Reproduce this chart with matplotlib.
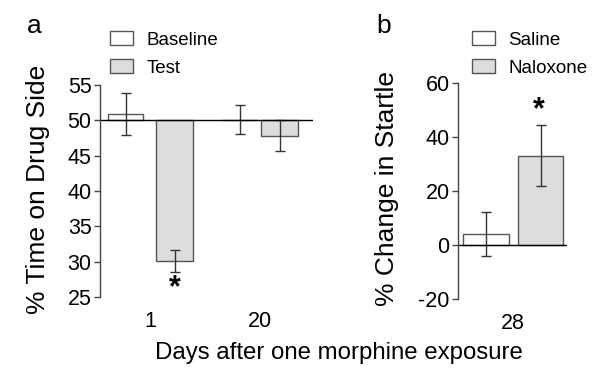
import numpy as np
import matplotlib
matplotlib.use("Agg")
import matplotlib.pyplot as plt

plt.rcParams['font.family'] = ['Liberation Sans', 'DejaVu Sans']
plt.rcParams['axes.unicode_minus'] = False

# panel a: % time on drug side
days = ['1', '20']
baseline_mean = [50.9, 50.1]
baseline_err = [3.0, 2.1]
test_mean = [30.1, 47.8]
test_err = [1.6, 2.2]

# panel b: % change in startle (day 28)
startle_day = ['28']
saline_mean = [4.0]
saline_err = [8.2]
naloxone_mean = [33.0]
naloxone_err = [11.3]

edge = '#555555'
fill = '#dddddd'
ecol = '#333333'

fig = plt.figure(figsize=(6, 3.84), dpi=100)

# ---- panel a
ax1 = fig.add_axes([100 / 600, 87 / 384, 213 / 600, 212 / 384])
base_x = np.array([0.72, 3.93])
test_x = np.array([2.10, 5.06])
ax1.bar(base_x, np.array(baseline_mean) - 50, bottom=50, width=1.0,
        color='white', edgecolor=edge, linewidth=1, label='Baseline')
ax1.bar(test_x, np.array(test_mean) - 50, bottom=50, width=1.05,
        color=fill, edgecolor=edge, linewidth=1, label='Test')
ax1.errorbar(base_x, baseline_mean, yerr=baseline_err, fmt='none',
             ecolor=ecol, elinewidth=1, capsize=3.6, capthick=1)
ax1.errorbar(test_x, test_mean, yerr=test_err, fmt='none',
             ecolor=ecol, elinewidth=1, capsize=3.6, capthick=1)
ax1.axhline(50, color='black', lw=1)
ax1.set_xlim(0, 6)
ax1.set_ylim(25, 55)
ax1.set_yticks([25, 30, 35, 40, 45, 50, 55])
ax1.set_xticks((base_x + test_x) / 2)
ax1.set_xticklabels(days)
ax1.text(test_x[0], 26.3, '*', ha='center', va='center', fontsize=22,
         fontweight='bold')
ax1.legend(loc='upper left', bbox_to_anchor=(110 / 600, 1 - 31 / 384),
           bbox_transform=fig.transFigure, frameon=False, borderpad=0,
           borderaxespad=0, handlelength=1.25, handleheight=0.8,
           handletextpad=0.7, labelspacing=0.55, fontsize=13.5)

# ---- panel b
ax2 = fig.add_axes([458 / 600, 85 / 384, 109 / 600, 216 / 384])
sal_x = np.array([0.62])
nal_x = np.array([1.82])
ax2.bar(sal_x, saline_mean, width=1.0, color='white', edgecolor=edge,
        linewidth=1, label='Saline')
ax2.bar(nal_x, naloxone_mean, width=1.0, color=fill, edgecolor=edge,
        linewidth=1, label='Naloxone')
ax2.errorbar(sal_x, saline_mean, yerr=saline_err, fmt='none',
             ecolor=ecol, elinewidth=1, capsize=3.6, capthick=1)
ax2.errorbar(nal_x, naloxone_mean, yerr=naloxone_err, fmt='none',
             ecolor=ecol, elinewidth=1, capsize=3.6, capthick=1)
ax2.axhline(0, color='black', lw=1)
ax2.set_xlim(0, 2.4)
ax2.set_ylim(-20, 60)
ax2.set_yticks([-20, 0, 20, 40, 60])
ax2.set_xticks([1.21])
ax2.set_xticklabels(startle_day)
ax2.text(nal_x[0] - 0.05, 50, '*', ha='center', va='center', fontsize=22,
         fontweight='bold')
ax2.legend(loc='upper left', bbox_to_anchor=(472 / 600, 1 - 31 / 384),
           bbox_transform=fig.transFigure, frameon=False, borderpad=0,
           borderaxespad=0, handlelength=1.25, handleheight=0.8,
           handletextpad=0.7, labelspacing=0.55, fontsize=13.5)

for ax in (ax1, ax2):
    for s in ('top', 'right', 'bottom'):
        ax.spines[s].set_visible(False)
    ax.spines['left'].set_color('#444444')
    ax.spines['left'].set_linewidth(1)
    ax.tick_params(axis='y', length=4, width=1, color='#444444',
                   labelsize=15.5, pad=2)
    ax.tick_params(axis='x', length=0, labelsize=15.5, pad=10)

fig.text(38 / 600, 1 - 189 / 384, '% Time on Drug Side', rotation=90,
         ha='center', va='center', fontsize=19)
fig.text(387 / 600, 1 - 189 / 384, '% Change in Startle', rotation=90,
         ha='center', va='center', fontsize=19)
fig.text(339 / 600, 1 - 353 / 384, 'Days after one morphine exposure',
         ha='center', va='center', fontsize=17.3)
fig.text(27 / 600, 1 - 33 / 384, 'a', ha='left', va='baseline', fontsize=19)
fig.text(376 / 600, 1 - 33 / 384, 'b', ha='left', va='baseline', fontsize=19)

fig.savefig('out.png', dpi=100)
